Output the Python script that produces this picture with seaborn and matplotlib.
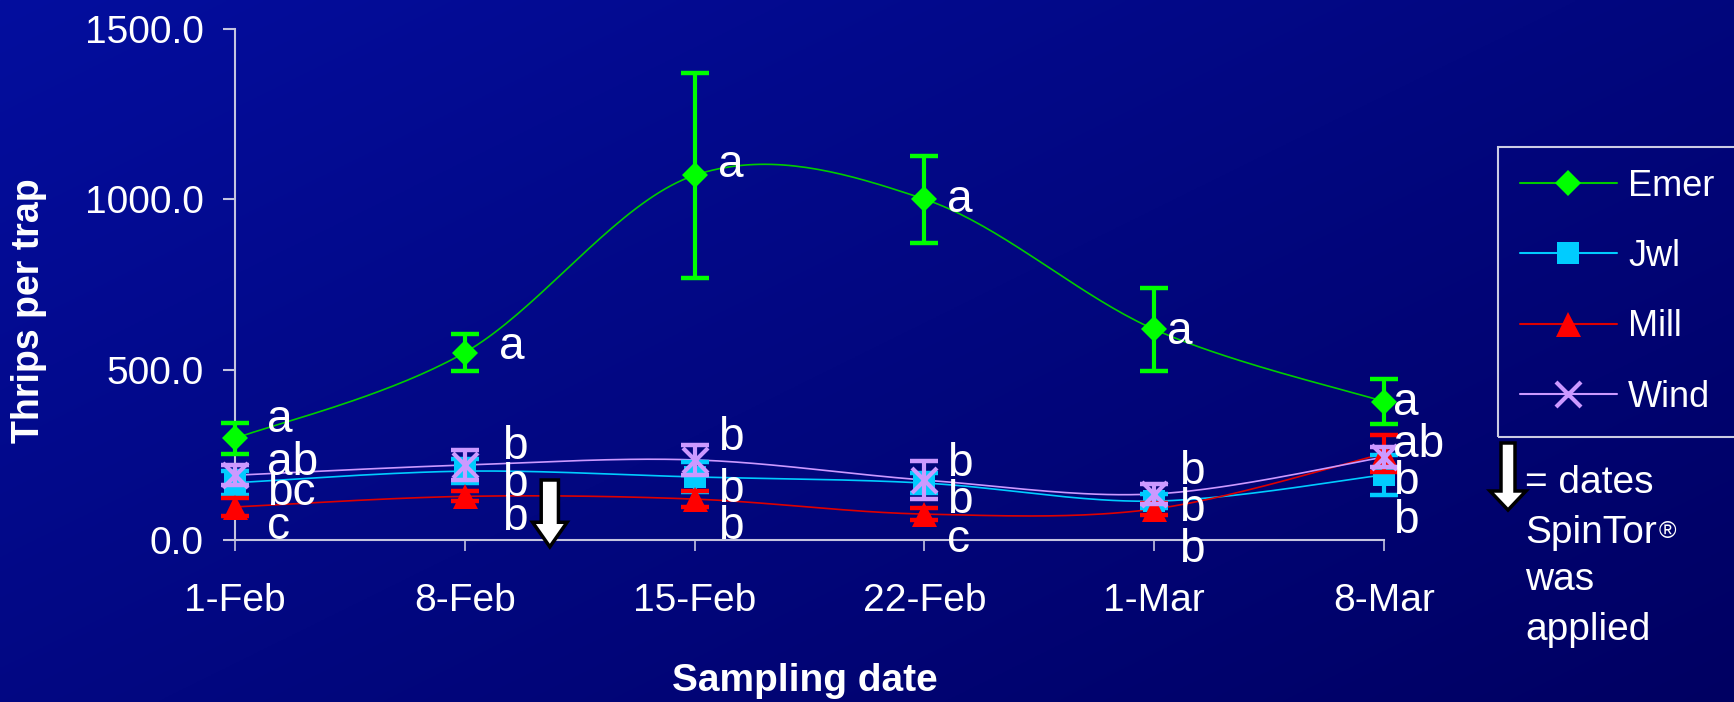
import numpy as np
import pandas as pd
import matplotlib
matplotlib.use("Agg")
import matplotlib.pyplot as plt
from matplotlib.lines import Line2D
from matplotlib.patches import FancyArrow
import seaborn as sns

# ---- data -------------------------------------------------------------
dates = ["1-Feb", "8-Feb", "15-Feb", "22-Feb", "1-Mar", "8-Mar"]
varieties = ["Emer", "Jwl", "Mill", "Wind"]

emer_mean = [298, 550, 1070, 1000, 618, 406]
emer_se = [45, 55, 300, 128, 122, 67]
jwl_mean = [168, 202, 185, 167, 114, 191]
jwl_se = [35, 35, 43, 30, 20, 59]
mill_mean = [97, 128, 120, 76, 91, 254]
mill_se = [27, 15, 24, 18, 17, 54]
wind_mean = [190, 220, 235, 176, 135, 243]
wind_se = [30, 44, 45, 56, 30, 30]

# mean separation letters for each variety and date
emer_letters = ["a", "a", "a", "a", "a", "a"]
jwl_letters = ["bc", "b", "b", "b", "b", "b"]
mill_letters = ["c", "b", "b", "c", "b", "b"]
wind_letters = ["ab", "b", "b", "b", "b", "ab"]

# SpinTor application date (between 8-Feb and 15-Feb)
spray_pos = [1.37]

# ---- layout of the letter labels (x offset from the date, y in data units) --
emer_lbl_dx = [0.14, 0.15, 0.10, 0.10, 0.057, 0.04]
other_lbl_dx = [0.14, 0.16, 0.10, 0.10, 0.11, 0.04]
emer_lbl_y = [352, 566, 1100, 998, 610, 402]
wind_lbl_y = [226, 272, 300, 222, 200, 279]
jwl_lbl_y = [138, 163, 148, 113, 90, 170]
mill_lbl_y = [38, 66, 38, 0, -28, 55]

# ---- styles -----------------------------------------------------------
marker_colors = {"Emer": "#00ff00", "Jwl": "#00ccff", "Mill": "#ff0000", "Wind": "#cc99ff"}
line_colors = {"Emer": "#00cc00", "Jwl": "#00ccff", "Mill": "#dd0000", "Wind": "#cc99ff"}
markers = {"Emer": "D", "Jwl": "s", "Mill": "^", "Wind": "x"}
marker_sizes = {"Emer": 13.5, "Jwl": 15.5, "Mill": 18, "Wind": 18}

sns.set_style("ticks")
plt.rcParams["font.family"] = ["Liberation Sans", "DejaVu Sans"]
plt.rcParams["text.color"] = "white"

W, H = 1734, 702
fig = plt.figure(figsize=(W / 100, H / 100), dpi=100)

# slide background: diagonal blue gradient
bg = fig.add_axes([0, 0, 1, 1], zorder=-10)
yy, xx = np.mgrid[0:1:300j, 0:1:600j]
t = np.clip(0.55 * xx + 0.45 * yy, 0, 1)
c_tl = np.array([4, 14, 158]) / 255
c_br = np.array([0, 0, 98]) / 255
bg.imshow(c_tl + (c_br - c_tl) * t[..., None], aspect="auto", extent=[0, 1, 0, 1])
bg.set_axis_off()

# overlay in pixel units for the note beside the legend
note = fig.add_axes([0, 0, 1, 1], zorder=5)
note.set_xlim(0, W)
note.set_ylim(H, 0)
note.set_axis_off()
note.patch.set_alpha(0)

ax = fig.add_axes([235 / W, 1 - 540 / H, (1384 - 235) / W, (540 - 28.7) / H], zorder=2)
ax.patch.set_alpha(0)

x = np.arange(len(dates))
series = {
    "Emer": (emer_mean, emer_se, emer_letters, emer_lbl_y, emer_lbl_dx),
    "Jwl": (jwl_mean, jwl_se, jwl_letters, jwl_lbl_y, other_lbl_dx),
    "Mill": (mill_mean, mill_se, mill_letters, mill_lbl_y, other_lbl_dx),
    "Wind": (wind_mean, wind_se, wind_letters, wind_lbl_y, other_lbl_dx),
}


def smooth_curve(xs, ys, n=40):
    """Cubic Bezier smoothing through every point (Catmull-Rom tangents)."""
    pts = np.column_stack([xs, ys]).astype(float)
    out = [pts[0]]
    tt = np.linspace(0, 1, n)[1:, None]
    for i in range(len(pts) - 1):
        p0 = pts[i - 1] if i > 0 else pts[i]
        p1, p2 = pts[i], pts[i + 1]
        p3 = pts[i + 2] if i + 2 < len(pts) else pts[i + 1]
        c1 = p1 + (p2 - p0) / 6
        c2 = p2 - (p3 - p1) / 6
        seg = (1 - tt) ** 3 * p1 + 3 * (1 - tt) ** 2 * tt * c1 + 3 * (1 - tt) * tt ** 2 * c2 + tt ** 3 * p2
        out.extend(seg)
    return np.array(out)


frames = []
for name, (mean, se, *_rest) in series.items():
    curve = smooth_curve(x, mean)
    frames.append(pd.DataFrame({"pos": curve[:, 0], "thrips": curve[:, 1], "variety": name}))
curves = pd.concat(frames, ignore_index=True)

sns.lineplot(data=curves, x="pos", y="thrips", hue="variety", palette=line_colors,
             estimator=None, sort=False, legend=False, linewidth=1.2, ax=ax, zorder=3)

for k, (name, (mean, se, letters, lbl_y, lbl_dx)) in enumerate(series.items()):
    ax.errorbar(x, mean, yerr=se, fmt="none", ecolor=marker_colors[name], elinewidth=3,
                capsize=10, capthick=3.2, clip_on=False, zorder=4 + 2 * k)
    ax.plot(x, mean, linestyle="none", marker=markers[name], markersize=marker_sizes[name],
            markerfacecolor=marker_colors[name], markeredgecolor=marker_colors[name],
            markeredgewidth=3 if name == "Wind" else 0, clip_on=False, zorder=5 + 2 * k)
    for xi, lab, ly, dx in zip(x, letters, lbl_y, lbl_dx):
        ax.text(xi + dx, ly, lab, fontsize=33, color="white", ha="left", va="center",
                zorder=20, clip_on=False)

# SpinTor application arrow
for sp in spray_pos:
    ax.add_patch(FancyArrow(sp, 176, 0, -196, width=0.075, head_width=0.15, head_length=72,
                            length_includes_head=True, facecolor="white", edgecolor="black",
                            linewidth=2.5, clip_on=False, zorder=22))

ax.set_xlim(0, len(dates) - 1)
ax.set_ylim(0, 1500)
ax.set_xticks(x)
ax.set_xticklabels(dates)
ax.set_yticks([0, 500, 1000, 1500])
ax.set_yticklabels([f"{v:.1f}" for v in [0, 500, 1000, 1500]])
ax.set_xlabel("")
ax.set_ylabel("")
ax.grid(False)
for side in ["top", "right"]:
    ax.spines[side].set_visible(False)
for side in ["left", "bottom"]:
    ax.spines[side].set_color("#c4c4e0")
    ax.spines[side].set_linewidth(1.5)
ax.tick_params(axis="y", length=8.6, width=1.5, color="#c4c4e0", pad=14, labelsize=28,
               labelcolor="white", direction="out")
ax.tick_params(axis="x", length=8, width=1.2, color="#c4c4e0", pad=23, labelsize=28,
               labelcolor="white", direction="out")

fig.text(29 / W, 1 - 311 / H, "Thrips per trap", rotation=90, ha="center", va="center",
         fontsize=27, fontweight="bold", color="white")
fig.text(805 / W, 1 - 681 / H, "Sampling date", ha="center", va="center",
         fontsize=28, fontweight="bold", color="white")

# legend
handles = [Line2D([], [], color=line_colors[n], linewidth=1.5, marker=markers[n],
                  markersize=marker_sizes[n], markerfacecolor=marker_colors[n],
                  markeredgecolor=marker_colors[n], markeredgewidth=3 if n == "Wind" else 0)
           for n in varieties]
leg = ax.legend(handles, varieties, loc="upper left", bbox_to_anchor=(1498 / W, 1 - 147 / H),
                bbox_transform=fig.transFigure, borderaxespad=0, fontsize=26, numpoints=1,
                handlelength=2.7, handletextpad=0.3, labelspacing=0.98, borderpad=0.6,
                frameon=True, fancybox=False, facecolor="none", edgecolor="white")
leg.get_frame().set_linewidth(1.5)
for txt in leg.get_texts():
    txt.set_color("white")

# note explaining the arrow
note.add_patch(FancyArrow(1508, 443, 0, 67, width=14, head_width=36, head_length=19,
                          length_includes_head=True, facecolor="white", edgecolor="black",
                          linewidth=2.5))
note.text(1525, 483, "= dates", fontsize=28, ha="left", va="center", color="white")
spin = note.text(1525, 533, "SpinTor", fontsize=28, ha="left", va="center", color="white")
note.annotate("®", xy=(1, 1), xycoords=spin, xytext=(1, -4), textcoords="offset points",
              fontsize=17, ha="left", va="top", color="white")
note.text(1525, 580, "was", fontsize=28, ha="left", va="center", color="white")
note.text(1525, 630, "applied", fontsize=28, ha="left", va="center", color="white")

fig.savefig("out.png", dpi=100)
